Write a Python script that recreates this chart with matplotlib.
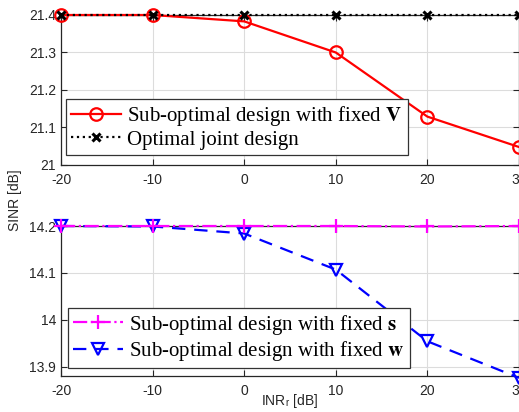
import numpy as np
import matplotlib
matplotlib.use("Agg")
import matplotlib.pyplot as plt

inr = [-20, -10, 0, 10, 20, 30]

# top panel
sinr_fixed_V = [21.4, 21.4, 21.383, 21.3, 21.129, 21.048]
sinr_joint = [21.4, 21.4, 21.4, 21.4, 21.4, 21.4]
# bottom panel
sinr_fixed_s = [14.2, 14.2, 14.2, 14.2, 14.199, 14.2]
sinr_fixed_w = [14.2, 14.199, 14.184, 14.107, 13.954, 13.876]

plt.rcParams['font.family'] = 'Liberation Sans'
plt.rcParams['xtick.direction'] = 'in'
plt.rcParams['ytick.direction'] = 'in'
plt.rcParams['axes.unicode_minus'] = False
plt.rcParams['mathtext.fontset'] = 'stix'

fig = plt.figure(figsize=(5.19, 4.12), dpi=100)
W, H = 519, 412
ax1 = fig.add_axes([61/W, 1-165/H, (519-61)/W, 150/H])
ax2 = fig.add_axes([61/W, 1-376/H, (519-61)/W, 150/H])

leg_font = dict(family='Liberation Serif', size=15)

ax1.plot(inr, sinr_fixed_V, color='red', lw=1.6, marker='o', ms=9, mfc='none', mew=1.6,
         label=r'Sub-optimal design with fixed $\mathbf{V}$', clip_on=False, zorder=3)
ax1.plot(inr, sinr_joint, color='black', lw=1.6, ls=':', marker='x', ms=6, mew=2.2,
         label='Optimal joint design', clip_on=False, zorder=4)
ax1.set_ylim(21, 21.4)
ax1.set_yticks([21, 21.1, 21.2, 21.3, 21.4])
ax1.set_yticklabels(['21', '21.1', '21.2', '21.3', '21.4'])

ax2.plot(inr, sinr_fixed_s, color='magenta', lw=1.6, ls='-.', marker='+', ms=10, mew=1.6,
         label=r'Sub-optimal design with fixed $\mathbf{s}$', clip_on=False, zorder=4)
ax2.plot(inr, sinr_fixed_w, color='blue', lw=1.6, ls=(0, (6, 4)), marker='v', ms=9, mfc='none', mew=1.6,
         label=r'Sub-optimal design with fixed $\mathbf{w}$', clip_on=False, zorder=3)
ax2.set_ylim(13.88, 14.2)
ax2.set_yticks([13.9, 14.0, 14.1, 14.2])
ax2.set_yticklabels(['13.9', '14', '14.1', '14.2'])

for ax in (ax1, ax2):
    ax.set_xlim(-20, 30)
    ax.set_xticks(inr)
    ax.grid(color='#dcdcdc', lw=0.8)
    ax.set_axisbelow(True)
    ax.tick_params(labelsize=10, colors='#262626', length=4, top=True, right=True)
    ax.tick_params(axis='x', pad=6)
    for s in ax.spines.values():
        s.set_color('#262626')
        s.set_linewidth(0.9)

for ax, anchor in ((ax1, (0.011, 0.067)), (ax2, (0.015, 0.053))):
    leg = ax.legend(loc='lower left', bbox_to_anchor=anchor, prop=leg_font, handlelength=2.4,
                    handletextpad=0.3, borderpad=0.25, labelspacing=0.1, fancybox=False,
                    framealpha=1, borderaxespad=0)
    leg.get_frame().set_edgecolor('#333333')
    leg.get_frame().set_linewidth(0.9)
    leg.set_zorder(5)

fig.text(15/W, 1-200/H, 'SINR [dB]', rotation=90, ha='center', va='center', fontsize=10, color='#262626')
fig.text(290/W, 1-401/H, r'INR$_\mathregular{r}$ [dB]', ha='center', va='center', fontsize=10, color='#262626')

fig.savefig('out.png', dpi=100)
